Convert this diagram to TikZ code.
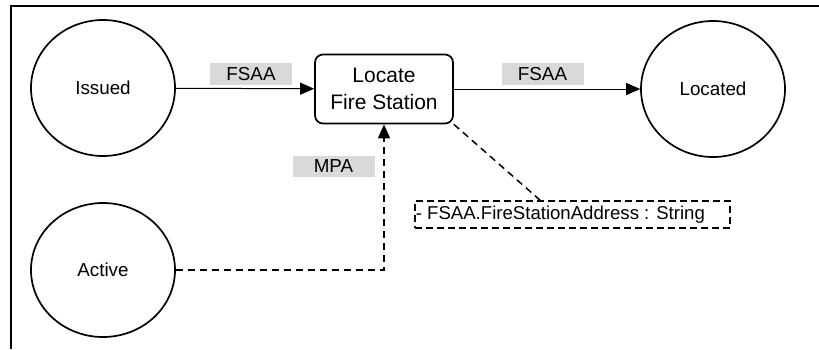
\documentclass[tikz,border=0pt]{standalone}
\usepackage{fontspec}
\setmainfont{Liberation Sans}
\usetikzlibrary{arrows.meta,shapes.geometric}
\definecolor{lblgray}{RGB}{217,217,217}

\begin{document}
\begin{tikzpicture}[x=1pt,y=-1pt,>={Triangle[length=14pt,width=12pt]},
  state/.style={ellipse,draw,line width=1.7pt,minimum width=144pt,minimum height=136pt,font=\fontsize{18.8}{22}\selectfont},
  action/.style={rectangle,rounded corners=8pt,draw,line width=1.7pt,minimum width=138pt,minimum height=69pt,align=center,font=\fontsize{21}{26.7}\selectfont},
  flowlbl/.style={fill=lblgray,inner sep=0pt,minimum width=82pt,minimum height=22pt,font=\fontsize{18.8}{22}\selectfont},
  notebox/.style={draw,line width=1.6pt,dash pattern=on 7pt off 4pt,text width=313pt,align=flush left,minimum height=27pt,inner sep=1pt,anchor=west,font=\fontsize{18.6}{22}\selectfont},
  flow/.style={->,line width=1pt},
  objflow/.style={line width=1.5pt,dash pattern=on 7pt off 5pt}]
\useasboundingbox (0,0) rectangle (819,349);
% frame
\draw[line width=2.2pt] (819,6) -- (11,6) -- (11,349);
% states and action
\node[state] (issued) at (103,88) {Issued};
\node[state] (located) at (713,89) {Located};
\node[state,minimum height=134pt] (active) at (103,270) {Active};
\node[action] (locate) at (384,89) {Locate\\Fire Station};
\node[notebox] (note) at (414,214.5) {- FSAA.FireStationAddress : String};
\coordinate (notetop) at (541,201);
% flow labels
\node[flowlbl] (lblin) at (251,74) {FSAA};
\node[flowlbl] (lblout) at (542.5,74) {FSAA};
\node[flowlbl,minimum height=21pt] (lblmpa) at (333.5,166.5) {MPA};
% flows
\draw[flow] (issued) -- (locate);
\draw[flow] (locate) -- (located);
\draw[objflow,->] (active.east) -| (locate.south);
\draw[objflow] (locate.south east) -- (notetop);
\end{tikzpicture}
\end{document}
